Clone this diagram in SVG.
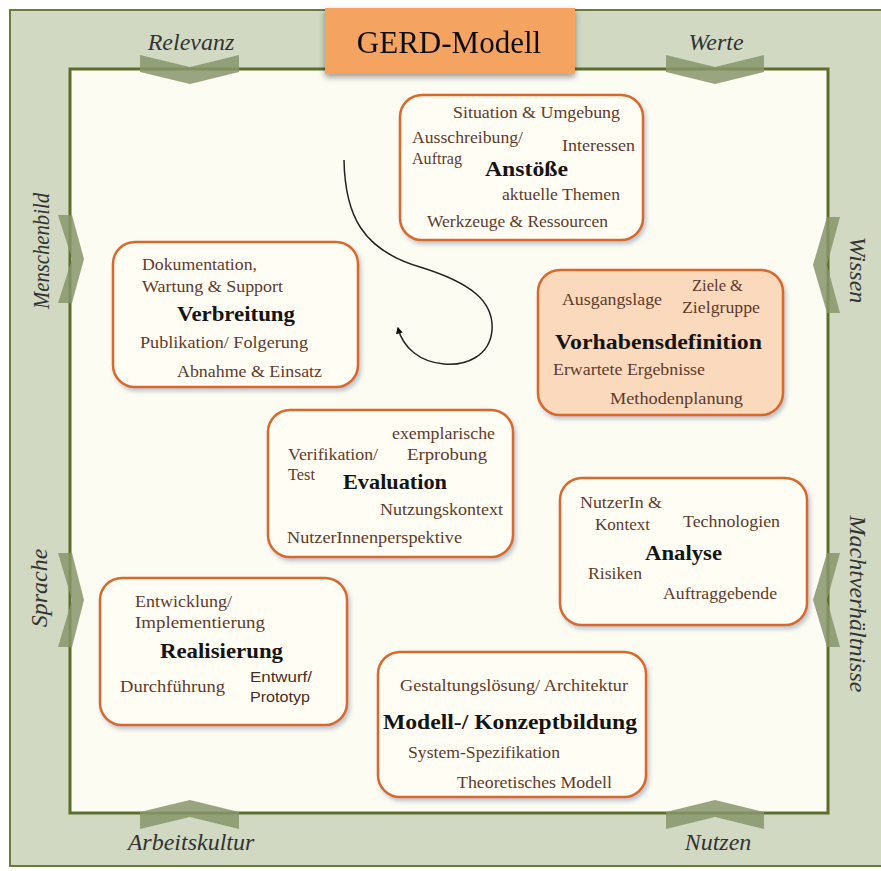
<svg xmlns="http://www.w3.org/2000/svg" width="881" height="871" viewBox="0 0 881 871">
<defs>
<style>
.d{font-family:"Liberation Serif","DejaVu Serif",serif;font-size:17px;fill:#5e3a2c}
.t{font-family:"Liberation Serif","DejaVu Serif",serif;font-size:22px;font-weight:bold;fill:#141414}
.s{font-family:"Liberation Sans","DejaVu Sans",sans-serif;font-size:15px;fill:#4a2c22}
.lab{font-family:"Liberation Serif","DejaVu Serif",serif;font-style:italic;font-size:24px;fill:#333;text-anchor:middle}
.box{fill:#fffdf4;stroke:#d8692c;stroke-width:2.5}
.boxo{fill:#fad9bc;stroke:#d8692c;stroke-width:2.5}
.chev{fill:#87956b;opacity:0.85}
.conn{fill:none;stroke:#222;stroke-width:1.5}
</style>
<filter id="sh" x="-10%" y="-10%" width="120%" height="130%">
<feDropShadow dx="2" dy="3" stdDeviation="2" flood-color="#7a8aa0" flood-opacity="0.5"/>
</filter>
<filter id="glow" x="-10%" y="-20%" width="120%" height="150%">
<feGaussianBlur in="SourceAlpha" stdDeviation="3"/>
<feOffset dx="0" dy="3"/>
<feComponentTransfer><feFuncA type="linear" slope="0.4"/></feComponentTransfer>
<feMerge><feMergeNode/><feMergeNode in="SourceGraphic"/></feMerge>
</filter>
<marker id="ah" viewBox="0 0 10 10" refX="8" refY="5" markerWidth="7" markerHeight="7" orient="auto" markerUnits="userSpaceOnUse">
<path d="M0,0 L10,5 L0,10 z" fill="#111"/>
</marker>
</defs>

<g id="frame">
<rect x="10" y="10" width="880" height="856" fill="#d1d9c3" stroke="#6b7b3a" stroke-width="2"/>
<rect x="70" y="69" width="758" height="744" fill="#fdfcf3" stroke="#5d6e2c" stroke-width="3"/>
</g>

<g id="chevrons">
<polygon class="chev" points="140,55 190,67 239,55 239,72 190,84 140,72"/>
<polygon class="chev" points="666,55 715,67 764,55 764,72 715,84 666,72"/>
<polygon class="chev" points="140,829 190,817 239,829 239,812 190,800 140,812"/>
<polygon class="chev" points="666,829 715,817 764,829 764,812 715,800 666,812"/>
<polygon class="chev" points="58,215 72,259 58,303 72,303 84,259 72,215"/>
<polygon class="chev" points="58,553 72,600 58,647 72,647 84,600 72,553"/>
<polygon class="chev" points="840,217 827,265 840,313 827,313 813,265 827,217"/>
<polygon class="chev" points="840,553 827,600 840,647 827,647 813,600 827,553"/>
</g>

<g id="labels">
<text class="lab" x="191" y="50">Relevanz</text>
<text class="lab" x="716" y="50">Werte</text>
<text class="lab" x="191" y="850">Arbeitskultur</text>
<text class="lab" x="718" y="850">Nutzen</text>
<text class="lab" transform="translate(49,251) rotate(-90)" textLength="116" lengthAdjust="spacingAndGlyphs">Menschenbild</text>
<text class="lab" transform="translate(47,588) rotate(-90)">Sprache</text>
<text class="lab" transform="translate(850,270) rotate(90)">Wissen</text>
<text class="lab" transform="translate(850,604) rotate(90)">Machtverhältnisse</text>
</g>

<g id="title" filter="url(#glow)">
<rect x="325" y="8" width="250" height="66" fill="#f4a460"/>
<text x="449" y="53" text-anchor="middle" style="font-family:'Liberation Serif','DejaVu Serif',serif;font-size:31px;fill:#111">GERD-Modell</text>
</g>

<g id="connectors">
<path class="conn" d="M344,160 C345,215 362,250 420,267 C472,283 494,302 492,330 C490,356 466,366 444,364 C420,362 403,348 398,328" marker-end="url(#ah)"/>
</g>

<g id="node-anstoesse">
<rect class="box" x="400" y="95" width="243" height="145" rx="22" filter="url(#sh)"/>
<text class="d" x="453" y="118" textLength="167" lengthAdjust="spacingAndGlyphs">Situation &amp; Umgebung</text>
<text class="d" x="412" y="143" textLength="111" lengthAdjust="spacingAndGlyphs">Ausschreibung/</text>
<text class="d" x="412" y="164" textLength="50" lengthAdjust="spacingAndGlyphs">Auftrag</text>
<text class="d" x="562" y="151" textLength="73" lengthAdjust="spacingAndGlyphs">Interessen</text>
<text class="t" x="485" y="176" textLength="83" lengthAdjust="spacingAndGlyphs">Anstöße</text>
<text class="d" x="502" y="200" textLength="118" lengthAdjust="spacingAndGlyphs">aktuelle Themen</text>
<text class="d" x="427" y="227" textLength="181" lengthAdjust="spacingAndGlyphs">Werkzeuge &amp; Ressourcen</text>
</g>

<g id="node-verbreitung">
<rect class="box" x="113" y="242" width="245" height="145" rx="22" filter="url(#sh)"/>
<text class="d" x="142" y="270" textLength="115" lengthAdjust="spacingAndGlyphs">Dokumentation,</text>
<text class="d" x="142" y="292" textLength="141" lengthAdjust="spacingAndGlyphs">Wartung &amp; Support</text>
<text class="t" x="177" y="321" textLength="118" lengthAdjust="spacingAndGlyphs">Verbreitung</text>
<text class="d" x="140" y="348" textLength="168" lengthAdjust="spacingAndGlyphs">Publikation/ Folgerung</text>
<text class="d" x="177" y="377" textLength="145" lengthAdjust="spacingAndGlyphs">Abnahme &amp; Einsatz</text>
</g>

<g id="node-vorhabensdefinition">
<rect class="boxo" x="538" y="270" width="245" height="145" rx="22" filter="url(#sh)"/>
<text class="d" x="562" y="305" textLength="100" lengthAdjust="spacingAndGlyphs">Ausgangslage</text>
<text class="d" x="692" y="291" textLength="51" lengthAdjust="spacingAndGlyphs">Ziele &amp;</text>
<text class="d" x="682" y="313" textLength="78" lengthAdjust="spacingAndGlyphs">Zielgruppe</text>
<text class="t" x="555" y="349" textLength="207" lengthAdjust="spacingAndGlyphs">Vorhabensdefinition</text>
<text class="d" x="553" y="375" textLength="152" lengthAdjust="spacingAndGlyphs">Erwartete Ergebnisse</text>
<text class="d" x="610" y="404" textLength="133" lengthAdjust="spacingAndGlyphs">Methodenplanung</text>
</g>

<g id="node-evaluation">
<rect class="box" x="268" y="410" width="245" height="147" rx="22" filter="url(#sh)"/>
<text class="d" x="392" y="439" textLength="103" lengthAdjust="spacingAndGlyphs">exemplarische</text>
<text class="d" x="288" y="460" textLength="90" lengthAdjust="spacingAndGlyphs">Verifikation/</text>
<text class="d" x="407" y="460" textLength="80" lengthAdjust="spacingAndGlyphs">Erprobung</text>
<text class="d" x="288" y="480" textLength="27" lengthAdjust="spacingAndGlyphs">Test</text>
<text class="t" x="343" y="489" textLength="104" lengthAdjust="spacingAndGlyphs">Evaluation</text>
<text class="d" x="380" y="515" textLength="123" lengthAdjust="spacingAndGlyphs">Nutzungskontext</text>
<text class="d" x="287" y="543" textLength="175" lengthAdjust="spacingAndGlyphs">NutzerInnenperspektive</text>
</g>

<g id="node-analyse">
<rect class="box" x="560" y="478" width="247" height="147" rx="22" filter="url(#sh)"/>
<text class="d" x="580" y="508" textLength="82" lengthAdjust="spacingAndGlyphs">NutzerIn &amp;</text>
<text class="d" x="595" y="530" textLength="55" lengthAdjust="spacingAndGlyphs">Kontext</text>
<text class="d" x="683" y="527" textLength="97" lengthAdjust="spacingAndGlyphs">Technologien</text>
<text class="t" x="645" y="560" textLength="77" lengthAdjust="spacingAndGlyphs">Analyse</text>
<text class="d" x="588" y="579" textLength="54" lengthAdjust="spacingAndGlyphs">Risiken</text>
<text class="d" x="663" y="599" textLength="114" lengthAdjust="spacingAndGlyphs">Auftraggebende</text>
</g>

<g id="node-realisierung">
<rect class="box" x="100" y="578" width="247" height="147" rx="22" filter="url(#sh)"/>
<text class="d" x="135" y="607" textLength="97" lengthAdjust="spacingAndGlyphs">Entwicklung/</text>
<text class="d" x="135" y="628" textLength="130" lengthAdjust="spacingAndGlyphs">Implementierung</text>
<text class="t" x="160" y="658" textLength="123" lengthAdjust="spacingAndGlyphs">Realisierung</text>
<text class="d" x="120" y="692" textLength="105" lengthAdjust="spacingAndGlyphs">Durchführung</text>
<text class="s" x="250" y="682" textLength="62" lengthAdjust="spacingAndGlyphs">Entwurf/</text>
<text class="s" x="250" y="702" textLength="60" lengthAdjust="spacingAndGlyphs">Prototyp</text>
</g>

<g id="node-modell">
<rect class="box" x="378" y="652" width="268" height="145" rx="22" filter="url(#sh)"/>
<text class="d" x="400" y="691" textLength="228" lengthAdjust="spacingAndGlyphs">Gestaltungslösung/ Architektur</text>
<text class="t" x="383" y="729" textLength="254" lengthAdjust="spacingAndGlyphs">Modell-/ Konzeptbildung</text>
<text class="d" x="408" y="758" textLength="152" lengthAdjust="spacingAndGlyphs">System-Spezifikation</text>
<text class="d" x="457" y="788" textLength="155" lengthAdjust="spacingAndGlyphs">Theoretisches Modell</text>
</g>
</svg>
